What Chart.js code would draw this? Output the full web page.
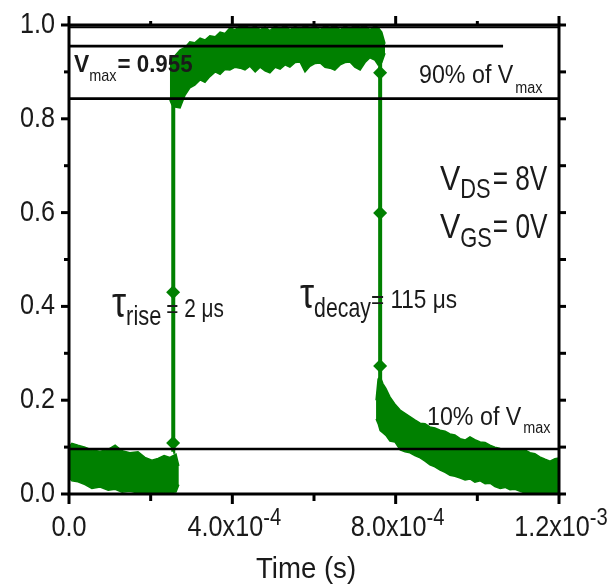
<!DOCTYPE html>
<html>
<head>
<meta charset="utf-8">
<script src="https://cdn.jsdelivr.net/npm/chart.js@4.4.1/dist/chart.umd.min.js"></script>
<style>
html,body{margin:0;padding:0;background:#fff;}
canvas{display:block;}
</style>
</head>
<body>
<canvas id="c" width="610" height="587"></canvas>
<script>
// ---------- DATA (time in seconds, voltage normalised) ----------
// baseline (before switching) noisy band
const baseTime  = [0, 7e-6, 2.2e-5, 3.9e-5, 5.6e-5, 7.6e-5, 9.6e-5, 1.13e-4, 1.3e-4, 1.49e-4, 1.69e-4, 1.86e-4, 2.03e-4, 2.18e-4, 2.33e-4, 2.47e-4, 2.62e-4, 2.69e-4];
const baseUpper = [0.100, 0.108, 0.104, 0.100, 0.094, 0.091, 0.095, 0.104, 0.092, 0.088, 0.090, 0.078, 0.072, 0.076, 0.082, 0.078, 0.085, 0.060];
const baseLower = [0.035, 0.028, 0.026, 0.020, 0.012, 0.015, 0.008, 0.010, 0.004, 0.006, 0.002, 0.004, 0.002, 0.004, 0.002, 0.003, 0.004, 0.020];

// ON plateau noisy band
const platTime  = [2.47e-4, 2.52e-4, 2.60e-4, 2.72e-4, 2.84e-4, 2.96e-4, 3.08e-4, 3.21e-4, 3.33e-4, 3.45e-4, 3.58e-4, 3.70e-4, 3.82e-4, 3.94e-4, 4.07e-4, 4.19e-4, 4.31e-4, 4.43e-4, 4.56e-4, 4.68e-4, 4.80e-4, 4.92e-4, 5.05e-4, 5.17e-4, 5.29e-4, 5.41e-4, 5.54e-4, 5.66e-4, 5.78e-4, 5.90e-4, 6.03e-4, 6.15e-4, 6.27e-4, 6.39e-4, 6.51e-4, 6.64e-4, 6.76e-4, 6.88e-4, 7.00e-4, 7.13e-4, 7.25e-4, 7.37e-4, 7.49e-4, 7.57e-4, 7.66e-4, 7.74e-4];
const platUpper = [0.925, 0.930, 0.935, 0.947, 0.952, 0.964, 0.962, 0.972, 0.968, 0.977, 0.975, 0.985, 0.982, 0.994, 0.990, 0.998, 1.000, 0.992, 0.998, 0.990, 0.996, 0.988, 0.998, 0.992, 1.000, 0.990, 0.997, 0.991, 1.000, 0.993, 0.998, 0.990, 0.999, 0.994, 1.000, 0.990, 0.998, 0.992, 1.000, 0.995, 0.999, 0.990, 0.998, 0.995, 0.985, 0.960];
const platLower = [0.840, 0.830, 0.825, 0.823, 0.850, 0.866, 0.872, 0.883, 0.878, 0.890, 0.900, 0.895, 0.905, 0.904, 0.910, 0.908, 0.904, 0.912, 0.900, 0.910, 0.902, 0.898, 0.910, 0.906, 0.915, 0.910, 0.920, 0.921, 0.900, 0.912, 0.918, 0.919, 0.910, 0.908, 0.904, 0.915, 0.920, 0.921, 0.910, 0.904, 0.920, 0.930, 0.925, 0.915, 0.920, 0.940];

// decay tail noisy band
const tailTime  = [7.52e-4, 7.57e-4, 7.62e-4, 7.69e-4, 7.76e-4, 7.86e-4, 7.98e-4, 8.11e-4, 8.23e-4, 8.35e-4, 8.47e-4, 8.60e-4, 8.72e-4, 8.84e-4, 8.96e-4, 9.09e-4, 9.21e-4, 9.33e-4, 9.45e-4, 9.58e-4, 9.70e-4, 9.82e-4, 9.94e-4, 1.007e-3, 1.019e-3, 1.031e-3, 1.043e-3, 1.056e-3, 1.068e-3, 1.080e-3, 1.092e-3, 1.105e-3, 1.117e-3, 1.129e-3, 1.141e-3, 1.153e-3, 1.166e-3, 1.178e-3, 1.190e-3, 1.200e-3];
const tailUpper = [0.200, 0.245, 0.250, 0.235, 0.225, 0.207, 0.192, 0.179, 0.172, 0.165, 0.158, 0.151, 0.150, 0.143, 0.141, 0.136, 0.134, 0.128, 0.126, 0.118, 0.115, 0.122, 0.116, 0.111, 0.110, 0.104, 0.100, 0.097, 0.096, 0.094, 0.095, 0.093, 0.094, 0.088, 0.086, 0.079, 0.074, 0.070, 0.075, 0.077];
const tailLower = [0.160, 0.150, 0.135, 0.130, 0.125, 0.113, 0.111, 0.094, 0.090, 0.088, 0.082, 0.077, 0.070, 0.062, 0.058, 0.051, 0.046, 0.040, 0.038, 0.034, 0.030, 0.032, 0.025, 0.028, 0.022, 0.023, 0.016, 0.012, 0.014, 0.009, 0.010, 0.006, 0.002, 0.000, 0.002, 0.000, 0.000, 0.002, 0.000, 0.000];

// switching edges with marked points
const riseTime  = [2.55e-4, 2.55e-4, 2.55e-4, 2.56e-4];
const riseV     = [0.090, 0.109, 0.430, 0.860];
const riseMark  = [0, 7, 7, 0];
const decayTime = [7.62e-4, 7.62e-4, 7.62e-4, 7.62e-4, 7.62e-4];
const decayV    = [0.930, 0.898, 0.599, 0.273, 0.200];
const decayMark = [0, 7, 7, 7, 0];

// reference levels
const vMax      = 0.955;
const vMaxEnd   = 1.063e-3;
const level90   = 0.843;
const level10   = 0.096;
const levelTop  = 0.995;

// axes
const xMin = 0, xMax = 1.2e-3, yMin = 0, yMax = 1.0;
const xMajorTicks = [0, 4e-4, 8e-4, 1.2e-3];
const xTickMant   = ['0.0', '4.0x10', '8.0x10', '1.2x10'];
const xTickExp    = ['', '-4', '-4', '-3'];
const xMinorTicks = [2e-4, 6e-4, 1.0e-3];
const yMajorTicks = [0, 0.2, 0.4, 0.6, 0.8, 1.0];
const yTickLabels = ['0.0', '0.2', '0.4', '0.6', '0.8', '1.0'];
const yMinorTicks = [0.1, 0.3, 0.5, 0.7, 0.9];
const xTitle = 'Time (s)';

// ---------- BUILD ----------
const GREEN = '#008000';
const TXT = '#1a1a1a';
const FF = "'Liberation Sans', Arial, sans-serif";
const pts = (xs, ys) => xs.map((x, i) => ({x: x, y: ys[i]}));
const hline = (y, x0, x1) => [{x: x0, y: y}, {x: x1, y: y}];

const bandStyle = {borderColor: GREEN, backgroundColor: GREEN, borderWidth: 1.5, pointRadius: 0, showLine: true, tension: 0, order: 3};
const blackLine = {borderColor: '#000', borderWidth: 2.6, pointRadius: 0, showLine: true, fill: false, order: 0};

const datasets = [
  Object.assign({label: 'base-up', data: pts(baseTime, baseUpper), fill: '+1'}, bandStyle),
  Object.assign({label: 'base-lo', data: pts(baseTime, baseLower), fill: false}, bandStyle),
  Object.assign({label: 'plat-up', data: pts(platTime, platUpper), fill: '+1'}, bandStyle),
  Object.assign({label: 'plat-lo', data: pts(platTime, platLower), fill: false}, bandStyle),
  Object.assign({label: 'tail-up', data: pts(tailTime, tailUpper), fill: '+1'}, bandStyle),
  Object.assign({label: 'tail-lo', data: pts(tailTime, tailLower), fill: false}, bandStyle),
  {label: 'rise', data: pts(riseTime, riseV), showLine: true, borderColor: GREEN, backgroundColor: GREEN, borderWidth: 4,
   pointStyle: 'rectRot', pointRadius: riseMark, pointBorderWidth: 0, fill: false, order: 2},
  {label: 'decay', data: pts(decayTime, decayV), showLine: true, borderColor: GREEN, backgroundColor: GREEN, borderWidth: 4,
   pointStyle: 'rectRot', pointRadius: decayMark, pointBorderWidth: 0, fill: false, order: 2},
  Object.assign({label: 'vmax', data: hline(vMax, xMin, vMaxEnd)}, blackLine),
  Object.assign({label: 'l90', data: hline(level90, xMin, xMax)}, blackLine),
  Object.assign({label: 'l10', data: hline(level10, xMin, xMax)}, blackLine),
  Object.assign({label: 'ltop', data: hline(levelTop, xMin, xMax)}, blackLine, {borderWidth: 2})
];

function drawParts(ctx, x, y, parts, align) {
  let total = 0;
  parts.forEach(p => {
    ctx.font = (p.bold ? 'bold ' : '') + p.size + 'px ' + FF;
    p._w = ctx.measureText(p.t).width * (p.sx || 1);
    total += p._w + (p.gap || 0);
  });
  if (align === 'center') x -= total / 2;
  else if (align === 'right') x -= total;
  parts.forEach(p => {
    x += (p.gap || 0);
    ctx.font = (p.bold ? 'bold ' : '') + p.size + 'px ' + FF;
    ctx.save();
    ctx.translate(x, y + (p.dy || 0));
    ctx.scale(p.sx || 1, 1);
    ctx.textAlign = 'left';
    ctx.textBaseline = 'alphabetic';
    ctx.fillStyle = TXT;
    ctx.fillText(p.t, 0, 0);
    ctx.restore();
    x += p._w;
  });
}

const decor = {
  id: 'decor',
  afterDraw(chart) {
    const ctx = chart.ctx;
    const a = chart.chartArea;
    const xs = chart.scales.x, ys = chart.scales.y;
    ctx.save();
    ctx.strokeStyle = '#000';
    ctx.lineWidth = 3;
    ctx.strokeRect(a.left, a.top, a.right - a.left, a.bottom - a.top);
    ctx.lineCap = 'butt';
    const tick = (x0, y0, x1, y1) => { ctx.beginPath(); ctx.moveTo(x0, y0); ctx.lineTo(x1, y1); ctx.stroke(); };
    // y ticks (left outward, right outward)
    yMajorTicks.forEach(v => { const p = ys.getPixelForValue(v); tick(a.left, p, a.left - 8, p); tick(a.right, p, a.right + 7, p); });
    yMinorTicks.forEach(v => { const p = ys.getPixelForValue(v); tick(a.left, p, a.left - 5, p); tick(a.right, p, a.right + 7, p); });
    // x ticks (bottom outward, top outward)
    xMajorTicks.forEach(v => { const p = xs.getPixelForValue(v); tick(p, a.bottom, p, a.bottom + 10); tick(p, a.top, p, a.top - 9); });
    xMinorTicks.forEach(v => { const p = xs.getPixelForValue(v); tick(p, a.bottom, p, a.bottom + 7); tick(p, a.top, p, a.top - 4); });
    // y tick labels
    yMajorTicks.forEach((v, i) => {
      drawParts(ctx, a.left - 14, ys.getPixelForValue(v) + 8, [{t: yTickLabels[i], size: 30, sx: 0.84}], 'right');
    });
    // x tick labels
    xMajorTicks.forEach((v, i) => {
      const parts = [{t: xTickMant[i], size: 30, sx: 0.84}];
      if (xTickExp[i]) parts.push({t: xTickExp[i], size: 24, sx: 0.84, dy: -11});
      drawParts(ctx, xs.getPixelForValue(v) + (xTickExp[i] ? 2 : 0), a.bottom + 42, parts, 'center');
    });
    // axis title
    drawParts(ctx, (a.left + a.right) / 2 - 8, a.bottom + 84, [{t: xTitle, size: 30, sx: 0.92}], 'center');

    // annotations
    drawParts(ctx, 74, 72, [
      {t: 'V', size: 24, bold: true, sx: 0.95},
      {t: 'max', size: 17, sx: 0.85, dy: 9},
      {t: '= 0.955', size: 24, bold: true, sx: 0.93, gap: 1}
    ], 'left');
    drawParts(ctx, 419, 83, [
      {t: '90% of V', size: 25, sx: 0.93},
      {t: 'max', size: 16, sx: 0.9, dy: 10, gap: 2}
    ], 'left');
    drawParts(ctx, 427, 425, [
      {t: '10% of V', size: 25, sx: 0.93},
      {t: 'max', size: 16, sx: 0.9, dy: 8, gap: 2}
    ], 'left');
    drawParts(ctx, 440, 190, [
      {t: 'V', size: 35, sx: 0.87},
      {t: 'DS', size: 28, sx: 0.78, dy: 8},
      {t: '= 8V', size: 35, sx: 0.75, gap: 2}
    ], 'left');
    drawParts(ctx, 440, 238, [
      {t: 'V', size: 35, sx: 0.87},
      {t: 'GS', size: 28, sx: 0.78, dy: 9},
      {t: '= 0V', size: 35, sx: 0.75, gap: 1}
    ], 'left');
    drawParts(ctx, 112, 317, [
      {t: '\u03C4', size: 42, sx: 0.85},
      {t: 'rise', size: 28, sx: 0.78, dy: 8},
      {t: '= 2 \u03BCs', size: 26, sx: 0.8, gap: 5}
    ], 'left');
    drawParts(ctx, 300, 308, [
      {t: '\u03C4', size: 42, sx: 0.85},
      {t: 'decay', size: 28, sx: 0.76, dy: 9},
      {t: '= 115 \u03BCs', size: 26, sx: 0.87, gap: 0}
    ], 'left');
    ctx.restore();
  }
};

new Chart(document.getElementById('c'), {
  type: 'scatter',
  data: {datasets: datasets},
  options: {
    responsive: false,
    animation: false,
    devicePixelRatio: 1,
    layout: {padding: {left: 69, right: 51, top: 25, bottom: 93}},
    plugins: {legend: {display: false}, tooltip: {enabled: false}},
    scales: {
      x: {type: 'linear', min: xMin, max: xMax, display: false},
      y: {type: 'linear', min: yMin, max: yMax, display: false}
    }
  },
  plugins: [decor]
});
</script>
</body>
</html>
